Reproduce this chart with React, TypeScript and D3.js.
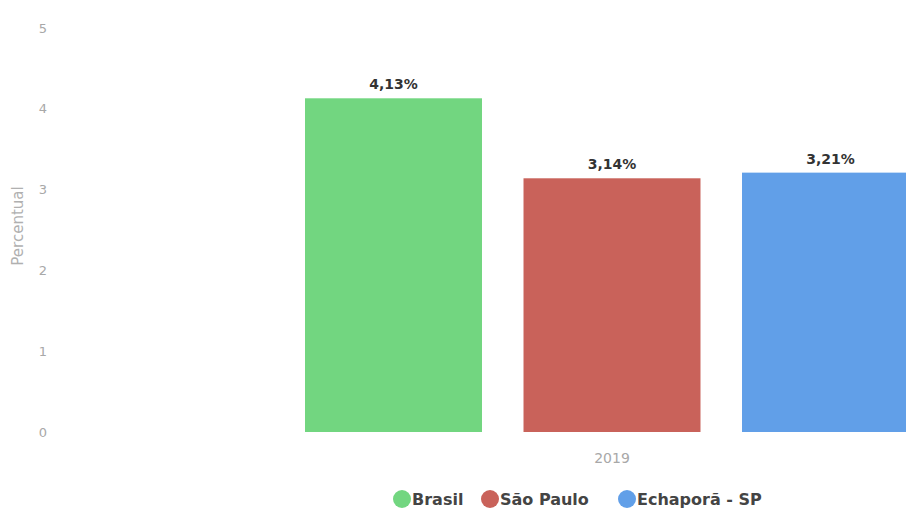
import React from "react";
import * as d3 from "d3";

const categories = ["2019"];
const seriesNames = ["Brasil", "São Paulo", "Echaporã - SP"];
const seriesValues = [4.13, 3.14, 3.21];
const valueLabels = ["4,13%", "3,14%", "3,21%"];
const seriesColors = ["#72d680", "#c9625a", "#619fe8"];
const yTicks = [0, 1, 2, 3, 4, 5];

const W = 906;
const H = 511;
const FONT = "'DejaVu Sans', Lato, sans-serif";

export default function App() {
  const y = d3.scaleLinear().domain([0, 5]).range([432, 28]);
  const x0 = d3.scaleBand<string>().domain(categories).range([305, 919]).padding(0);
  const x1 = d3
    .scaleBand<string>()
    .domain(seriesNames)
    .range([0, x0.bandwidth()])
    .paddingInner(0.19)
    .paddingOuter(0);

  const legendX = [402, 490, 627];

  return (
    <svg
      width={W}
      height={H}
      style={{ position: "absolute", left: 0, top: 0, background: "#fff" }}
      fontFamily={FONT}
    >
      {yTicks.map((t) => (
        <text
          key={t}
          x={43}
          y={y(t)}
          dy="0.35em"
          textAnchor="middle"
          fontSize={13}
          fill="#a8a8a8"
        >
          {t}
        </text>
      ))}
      <text
        transform={`translate(23, 226) rotate(-90)`}
        textAnchor="middle"
        fontSize={15}
        fill="#b0b0b0"
      >
        Percentual
      </text>

      {categories.map((c) => (
        <g key={c} transform={`translate(${x0(c)},0)`}>
          {seriesNames.map((s, i) => {
            const bx = x1(s) as number;
            const v = seriesValues[i];
            return (
              <g key={s}>
                <rect
                  x={bx}
                  y={y(v)}
                  width={x1.bandwidth()}
                  height={y(0) - y(v)}
                  fill={seriesColors[i]}
                />
                <text
                  x={bx + x1.bandwidth() / 2}
                  y={y(v) - 9}
                  textAnchor="middle"
                  fontSize={14}
                  fontWeight={700}
                  fill="#333"
                >
                  {valueLabels[i]}
                </text>
              </g>
            );
          })}
          <text
            x={x0.bandwidth() / 2}
            y={463}
            textAnchor="middle"
            fontSize={14}
            fill="#a8a8a8"
          >
            {c}
          </text>
        </g>
      ))}

      {seriesNames.map((s, i) => (
        <g key={s} transform={`translate(${legendX[i]}, 499)`}>
          <circle r={9} fill={seriesColors[i]} />
          <text x={10} dy="0.35em" fontSize={16} fontWeight={700} fill="#444">
            {s}
          </text>
        </g>
      ))}
    </svg>
  );
}
